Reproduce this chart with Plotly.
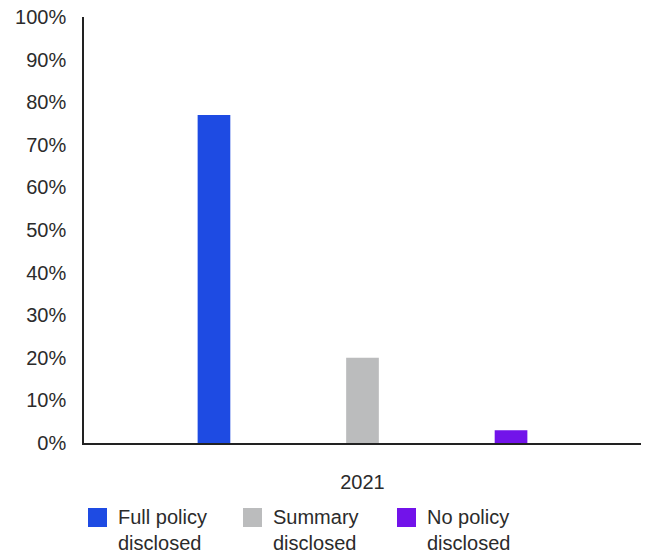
import plotly.graph_objects as go

# Policy disclosure shares for 2021
categories = ["2021"]
series_names = ["Full policy<br>disclosed", "Summary<br>disclosed", "No policy<br>disclosed"]
series_values = [[77], [20], [3]]
series_colors = ["#1E4BE3", "#BBBCBD", "#7213EA"]
y_ticks = [0, 10, 20, 30, 40, 50, 60, 70, 80, 90, 100]
y_tick_labels = [f"{v}%" for v in y_ticks]

FONT = "Liberation Sans"
TEXT_COLOR = "#2b2b2b"
FONT_SIZE = 20

fig = go.Figure()
for name, vals, color in zip(series_names, series_values, series_colors):
    fig.add_trace(go.Bar(x=categories, y=vals, name=name, marker_color=color,
                         marker_line_width=0, showlegend=False))

# Custom legend below the plot: swatch + two-line label
plot_left, plot_width = 84, 557
plot_bottom, plot_height = 443, 426
def px_x(px):
    return (px - plot_left) / plot_width
def px_y(py):
    return (plot_bottom - py) / plot_height

swatch_x = [88, 243, 397]
for sx, name, color in zip(swatch_x, series_names, series_colors):
    fig.add_shape(type="rect", xref="paper", yref="paper",
                  x0=px_x(sx), x1=px_x(sx + 19), y0=px_y(527), y1=px_y(508),
                  fillcolor=color, line_width=0)
    fig.add_annotation(xref="paper", yref="paper", x=px_x(sx + 28), y=px_y(504),
                       xanchor="left", yanchor="top", align="left", showarrow=False,
                       text=name, font=dict(family=FONT, size=FONT_SIZE, color=TEXT_COLOR))

fig.update_layout(
    width=646, height=556,
    margin=dict(l=84, r=5, t=17, b=113),
    paper_bgcolor="white", plot_bgcolor="white",
    barmode="group", bargap=0.2, bargroupgap=0.78,
    font=dict(family=FONT, size=FONT_SIZE, color=TEXT_COLOR),
    xaxis=dict(showline=True, linecolor="#222", linewidth=2, ticks="",
               showgrid=False, ticklabelstandoff=20,
               tickfont=dict(size=FONT_SIZE)),
    yaxis=dict(range=[0, 100], tickvals=y_ticks, ticktext=y_tick_labels,
               showline=True, linecolor="#222", linewidth=1.5, showgrid=False,
               zeroline=False, ticks="", ticklabelstandoff=12,
               tickfont=dict(size=FONT_SIZE)),
)

fig.write_html("out.html")
